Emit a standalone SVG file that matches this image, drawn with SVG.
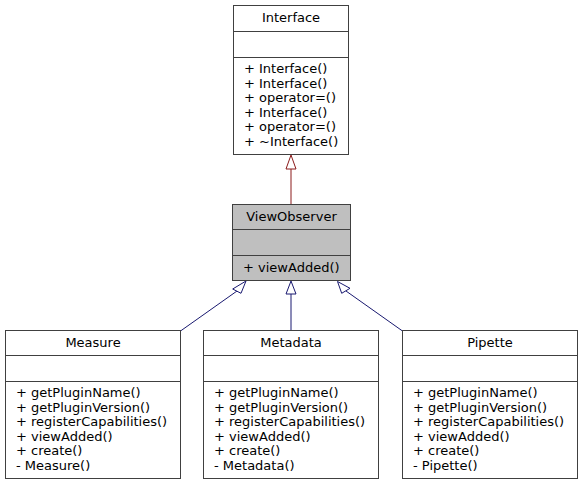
<svg xmlns="http://www.w3.org/2000/svg" width="583" height="485" viewBox="0 0 583 485">
<style>
.box{fill:#ffffff;stroke:#404040;stroke-width:1}
.cur{fill:#bfbfbf;stroke:#404040;stroke-width:1}
.sep{stroke:#404040;stroke-width:1}
text{font-family:"DejaVu Sans","Liberation Sans",sans-serif;font-size:13px;fill:#000000}
.t{text-anchor:middle}
.pub{stroke:#191970;stroke-width:1;fill:none}
.pubh{stroke:#191970;stroke-width:1;fill:#ffffff}
.prv{stroke:#8b1a1a;stroke-width:1;fill:none}
.prvh{stroke:#8b1a1a;stroke-width:1;fill:#ffffff}
</style>
<rect width="583" height="485" fill="#ffffff"/>
<g id="connectors">
<line class="prv" x1="291" y1="169" x2="291" y2="204"/>
<polygon class="prvh" points="291,155 286,169 296,169"/>
<line class="pub" x1="180.5" y1="331" x2="237" y2="291"/>
<polygon class="pubh" points="246,281 232.7,289 241,293.3"/>
<line class="pub" x1="291" y1="294" x2="291" y2="330"/>
<polygon class="pubh" points="291,281 286,294 296,294"/>
<line class="pub" x1="346" y1="291" x2="402.5" y2="331"/>
<polygon class="pubh" points="337.5,281.5 341.7,293.3 350,288.3"/>
</g>
<g id="Interface">
<rect class="box" x="233.5" y="5.5" width="115" height="149"/>
<line class="sep" x1="233.5" y1="31.5" x2="348.5" y2="31.5"/>
<line class="sep" x1="233.5" y1="57.5" x2="348.5" y2="57.5"/>
<text class="t" x="291" y="22">Interface</text>
<text x="244" y="73">+ Interface()</text>
<text x="244" y="87.5">+ Interface()</text>
<text x="244" y="102">+ operator=()</text>
<text x="244" y="116.5">+ Interface()</text>
<text x="244" y="131">+ operator=()</text>
<text x="244" y="145.5">+ ~Interface()</text>
</g>
<g id="ViewObserver">
<rect class="cur" x="232.5" y="204.5" width="118" height="76"/>
<line class="sep" x1="232.5" y1="229.5" x2="350.5" y2="229.5"/>
<line class="sep" x1="232.5" y1="255.5" x2="350.5" y2="255.5"/>
<text class="t" x="291.5" y="221">ViewObserver</text>
<text x="243" y="271.5">+ viewAdded()</text>
</g>
<g id="Measure">
<rect class="box" x="5.5" y="330.5" width="175" height="148"/>
<line class="sep" x1="5.5" y1="355.5" x2="180.5" y2="355.5"/>
<line class="sep" x1="5.5" y1="381.5" x2="180.5" y2="381.5"/>
<text class="t" x="93" y="346.5">Measure</text>
<text x="16" y="397">+ getPluginName()</text>
<text x="16" y="411.5">+ getPluginVersion()</text>
<text x="16" y="426">+ registerCapabilities()</text>
<text x="16" y="440.5">+ viewAdded()</text>
<text x="16" y="455">+ create()</text>
<text x="16" y="469.5">- Measure()</text>
</g>
<g id="Metadata">
<rect class="box" x="203.5" y="330.5" width="175" height="148"/>
<line class="sep" x1="203.5" y1="355.5" x2="378.5" y2="355.5"/>
<line class="sep" x1="203.5" y1="381.5" x2="378.5" y2="381.5"/>
<text class="t" x="291" y="346.5">Metadata</text>
<text x="214" y="397">+ getPluginName()</text>
<text x="214" y="411.5">+ getPluginVersion()</text>
<text x="214" y="426">+ registerCapabilities()</text>
<text x="214" y="440.5">+ viewAdded()</text>
<text x="214" y="455">+ create()</text>
<text x="214" y="469.5">- Metadata()</text>
</g>
<g id="Pipette">
<rect class="box" x="402.5" y="330.5" width="175" height="148"/>
<line class="sep" x1="402.5" y1="355.5" x2="577.5" y2="355.5"/>
<line class="sep" x1="402.5" y1="381.5" x2="577.5" y2="381.5"/>
<text class="t" x="490" y="346.5">Pipette</text>
<text x="413" y="397">+ getPluginName()</text>
<text x="413" y="411.5">+ getPluginVersion()</text>
<text x="413" y="426">+ registerCapabilities()</text>
<text x="413" y="440.5">+ viewAdded()</text>
<text x="413" y="455">+ create()</text>
<text x="413" y="469.5">- Pipette()</text>
</g>
</svg>
